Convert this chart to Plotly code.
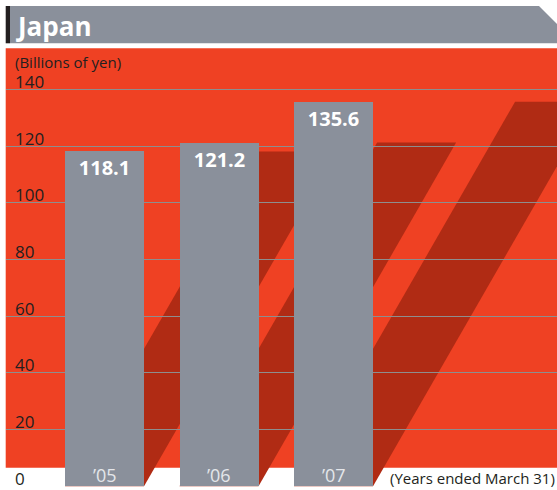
import plotly.graph_objects as go

# Net sales in Japan, billions of yen
years = ["’05", "’06", "’07"]
sales = [118.1, 121.2, 135.6]
y_ticks = [0, 20, 40, 60, 80, 100, 120, 140]

W, H = 557, 490
RED = "#EF4123"
DARK_RED = "#B02B14"
GRAY = "#8A909B"
TEXT = "#231F20"
FONT = "Open Sans"

bar_w = 0.69
shear = 0.01424  # horizontal drift of the shadow per unit of value

x_pos = list(range(len(years)))


def px(x):
    return x / W


def py(y):
    return 1 - y / H


fig = go.Figure()

fig.add_trace(go.Bar(
    x=x_pos,
    y=sales,
    width=bar_w,
    marker=dict(color=GRAY, line=dict(width=0)),
    text=[f"{v:.1f}" for v in sales],
    textposition="inside",
    insidetextanchor="end",
    textangle=0,
    textfont=dict(family=FONT, size=20, color="white", weight="bold"),
    hoverinfo="skip",
))

shapes = []
# red panel behind the chart
shapes.append(dict(type="rect", xref="paper", yref="paper", layer="below",
                   x0=px(5.7), x1=1, y0=py(467.7), y1=py(48.3),
                   fillcolor=RED, line=dict(width=0)))

# slanted shadows cast by each bar
for x, v in zip(x_pos, sales):
    l, r = x - bar_w / 2, x + bar_w / 2
    d = shear * v
    path = f"M {l},0 L {r},0 L {r + d},{v} L {l + d},{v} Z"
    shapes.append(dict(type="path", xref="x", yref="y", layer="below",
                       path=path, fillcolor=DARK_RED, line=dict(width=0)))

# heading band with dark accent and clipped corner
shapes.append(dict(type="path", xref="paper", yref="paper", layer="above",
                   path=(f"M {px(10)},{py(6)} L {px(539)},{py(6)} L {px(557)},{py(24)} "
                         f"L {px(557)},{py(43.3)} L {px(10)},{py(43.3)} Z"),
                   fillcolor=GRAY, line=dict(width=0)))
shapes.append(dict(type="rect", xref="paper", yref="paper", layer="above",
                   x0=px(5.7), x1=px(10), y0=py(43.3), y1=py(6),
                   fillcolor="#231F20", line=dict(width=0)))

annotations = []
annotations.append(dict(text="Japan", xref="paper", yref="paper",
                        x=px(14), y=py(26), xanchor="left", yanchor="middle",
                        showarrow=False,
                        font=dict(family=FONT, size=26, color="white", weight="bold")))
annotations.append(dict(text="(Billions of yen)", xref="paper", yref="paper",
                        x=px(13), y=py(62), xanchor="left", yanchor="middle",
                        showarrow=False,
                        font=dict(family=FONT, size=15, color=TEXT)))
for t in y_ticks:
    annotations.append(dict(text=str(t), xref="paper", yref="y",
                            x=px(13), y=t, xanchor="left", yanchor="middle",
                            yshift=8, showarrow=False,
                            font=dict(family=FONT, size=17, color=TEXT)))
for x, lab in zip(x_pos, years):
    annotations.append(dict(text=lab, xref="x", yref="y", x=x, y=0,
                            xanchor="center", yanchor="bottom", yshift=-3,
                            showarrow=False,
                            font=dict(family=FONT, size=18, color="#E4E6EA")))
annotations.append(dict(text="(Years ended March 31)", xref="paper", yref="paper",
                        x=1, y=py(478), xanchor="right", yanchor="middle",
                        showarrow=False,
                        font=dict(family=FONT, size=15, color=TEXT)))

fig.update_layout(
    width=W, height=H,
    margin=dict(l=0, r=0, t=0, b=0),
    paper_bgcolor="white",
    plot_bgcolor="rgba(0,0,0,0)",
    showlegend=False,
    bargap=0,
    shapes=shapes,
    annotations=annotations,
    xaxis=dict(domain=[6 / W, 1], range=[-0.8603, 3.952], visible=False,
               fixedrange=True),
    yaxis=dict(domain=[0, 1], range=[-1.305, 171.49], tickvals=y_ticks[1:],
               showticklabels=False, showgrid=True, gridcolor="#8E8E8E",
               gridwidth=1.3, zeroline=False, showline=False, ticks="",
               fixedrange=True),
)

fig.write_html("out.html")
